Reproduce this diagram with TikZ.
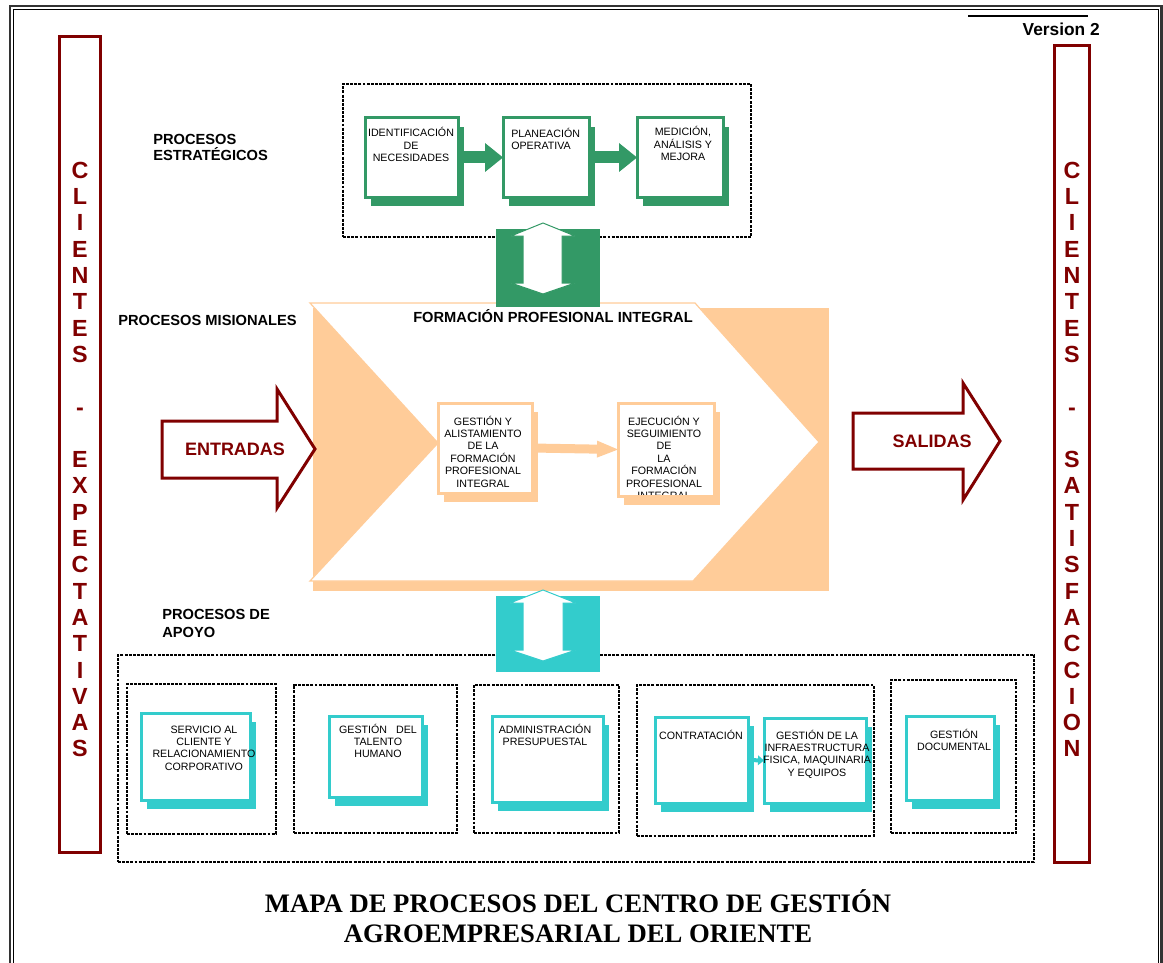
\documentclass[tikz,border=0pt]{standalone}
\usepackage{fontspec}
\setmainfont{Liberation Sans}
\newfontfamily\lsans{Liberation Sans}
\newfontfamily\lserif{Liberation Serif}
\usetikzlibrary{calc,fit,arrows.meta}
\definecolor{gcol}{HTML}{339966}
\definecolor{ccol}{HTML}{33CCCC}
\definecolor{ocol}{HTML}{FFCC99}
\definecolor{rcol}{HTML}{800000}
% name, colour, x1, y1, x2, y2
\newcommand\procbox[6]{%
  \fill[#2] ($(#3,#4)+(6,9)$) rectangle ($(#5,#6)+(6,9)$);
  \node[draw=#2, fill=white, line width=2.25pt, inner sep=0pt, outer sep=0pt, fit={(#3,#4) (#5,#6)}] (#1) {};
}
\begin{document}
\begin{tikzpicture}[x=0.75pt,y=-0.75pt,
  tx/.style={font=\lsans\fontsize{8}{9.3}\selectfont, inner sep=0pt, align=center, anchor=base},
  lab/.style={font=\lsans\bfseries\fontsize{11}{12.5}\selectfont, inner sep=0pt, align=left, anchor=base west},
  letter/.style={font=\lsans\bfseries\fontsize{17.5}{20}\selectfont, text=rcol, inner sep=0pt, anchor=base},
  dbox/.style={draw=black, dash pattern=on 2.2pt off 0.9pt, line width=0.9pt, inner sep=0pt, outer sep=0pt},
  rbox/.style={draw=rcol, line width=2.25pt, inner sep=0pt, outer sep=0pt},
  bigarrow/.style={draw=rcol, fill=white, line width=2.25pt, line join=miter},
  bigtext/.style={font=\lsans\bfseries\fontsize{13.5}{16}\selectfont, text=rcol, inner sep=0pt},
  dblarrow/.style={fill=white, line width=0.75pt, line join=miter},
]
\useasboundingbox (0,0) rectangle (1163,963);
% page frame
\draw[line width=1.8pt, black!80] (10,963) -- (10,6) -- (1161.5,6) -- (1161.5,963);
\draw[line width=0.6pt] (13,963) -- (13,9.5) -- (1158.5,9.5) -- (1158.5,963);
% version
\coordinate (v1) at (968,16);
\coordinate (v2) at (1088,16);
\draw[line width=1.3pt] (v1) -- (v2);
\node[font=\lsans\bfseries\fontsize{13}{15}\selectfont, inner sep=0pt, anchor=base east] (ver) at (1100,36) {Version 2};

% client columns
\node[rbox, fit={(59.5,36.5) (100,852)}] (colL) {};
\node[rbox, fit={(1054.3,46) (1089,862)}] (colR) {};
\foreach \ch [count=\i from 0] in {C,L,I,E,N,T,E,S}
  \node[letter] (la\i) at (80,{178.3+\i*26.3}) {\ch};
\node[letter] (ladash) at (80,{178.3+9*26.3}) {-};
\foreach \ch [count=\i from 11] in {E,X,P,E,C,T,A,T,I,V,A,S}
  \node[letter] (lb\i) at (80,{178.3+\i*26.3}) {\ch};
\foreach \ch [count=\i from 0] in {C,L,I,E,N,T,E,S}
  \node[letter] (ra\i) at (1072,{178.3+\i*26.3}) {\ch};
\node[letter] (radash) at (1072,{178.3+9*26.3}) {-};
\foreach \ch [count=\i from 11] in {S,A,T,I,S,F,A,C,C,I,O,N}
  \node[letter] (rb\i) at (1072,{178.3+\i*26.3}) {\ch};

% section labels (anchor = baseline of the last line)
\node[lab] (labE) at (153,161) {PROCESOS\\[-0.5pt]ESTRATÉGICOS};
\node[lab] (labM) at (118,325) {PROCESOS MISIONALES};
\node[lab, font=\lsans\bfseries\fontsize{11}{13.5}\selectfont] (labA) at (162,637) {PROCESOS DE\\APOYO};

% strategic processes
\node[dbox, fit={(343,84) (751,237)}] (estr) {};
\procbox{b1}{gcol}{365}{118}{458}{197}
\procbox{b2}{gcol}{503}{118}{589}{197}
\procbox{b3}{gcol}{637}{118}{723}{197}
\draw[gcol, line width=9pt, -{Triangle[length=13.5pt,width=21.75pt,line width=0pt]}] (b1.east) -- (b2.west);
\draw[gcol, line width=9pt, -{Triangle[length=13.5pt,width=21.75pt,line width=0pt]}] (b2.east) -- (b3.west);
\node[tx] (b1t) at (411,161.8) {IDENTIFICACIÓN\\DE\\NECESIDADES};
\node[tx, align=left, anchor=base west] (b2t) at (511,149.4) {PLANEACIÓN\\OPERATIVA};
\node[tx] (b3t) at (683,160.8) {MEDICIÓN,\\ANÁLISIS Y\\MEJORA};

% mission processes
\fill[ocol] (313,308) rectangle (829,591);
\draw[ocol, fill=white, line width=0.9pt, line join=miter] (310,303) -- (695,303) -- (819,442) -- (693,581) -- (310,581) -- (438,443) -- cycle;
\node[font=\lsans\bfseries\fontsize{11}{13}\selectfont, inner sep=0pt, anchor=base] (fpi) at (553,322) {FORMACIÓN PROFESIONAL INTEGRAL};
\procbox{oA}{ocol}{438}{403}{532}{493}
\procbox{oB}{ocol}{618}{403}{714}{496}
\draw[ocol, line width=6.75pt, -{Triangle[length=15.75pt,width=12.75pt,line width=0pt]}] (oA.east) -- (oB.west);
\node[tx] (oAt) at (483,487) {GESTIÓN Y\\ALISTAMIENTO\\DE LA\\FORMACIÓN\\PROFESIONAL\\INTEGRAL};
\begin{scope}
  \clip (618,403) rectangle (714,494);
  \node[tx] (oBt) at (664,499.4) {EJECUCIÓN Y\\SEGUIMIENTO\\DE\\LA\\FORMACIÓN\\PROFESIONAL\\INTEGRAL};
\end{scope}

% link strategic <-> mission
\node[fill=gcol, inner sep=0pt, outer sep=0pt, fit={(496,229) (600,307)}] (glink) {};
\draw[gcol, dblarrow] (543,223) -- (575,236) -- (562,236) -- (562,283) -- (575,283) -- (543,294)
  -- (511,283) -- (523,283) -- (523,236) -- (511,236) -- cycle;

% inputs / outputs
\draw[bigarrow] (162,421) -- (277,421) -- (277,389) -- (315,449) -- (277,508) -- (277,478) -- (162,478) -- cycle;
\node[bigtext] (entr) at (235,449) {ENTRADAS};
\draw[bigarrow] (853,413) -- (963,413) -- (963,383) -- (1000,441) -- (963,500) -- (963,469) -- (853,469) -- cycle;
\node[bigtext] (sal) at (932,441) {SALIDAS};

% support processes
\node[dbox, fit={(118,655) (1034,862)}] (apoyo) {};
\node[dbox, fit={(127,684) (276,834)}] (d1) {};
\node[dbox, fit={(294,685) (457,833)}] (d2) {};
\node[dbox, fit={(474,685) (619,833)}] (d3) {};
\node[dbox, fit={(637,685) (874,836)}] (d4) {};
\node[dbox, fit={(891,680) (1016,833)}] (d5) {};
\procbox{c1}{ccol}{141}{713}{250}{800}
\procbox{c2}{ccol}{329}{716}{422}{797}
\procbox{c3}{ccol}{492}{716}{603}{802}
\procbox{c4a}{ccol}{655}{717}{748}{803}
\procbox{c4b}{ccol}{764}{718}{866}{803}
\procbox{c5}{ccol}{906}{716}{994}{800}
\draw[ccol, line width=3pt, -{Triangle[length=4.5pt,width=7.5pt,line width=0pt]}] (c4a.east) -- (c4b.west);
\node[tx] (c1t) at (204,770.2) {SERVICIO AL\\CLIENTE Y\\RELACIONAMIENTO\\CORPORATIVO};
\node[tx] (c2t) at (378,757.8) {GESTIÓN\ \ \ DEL\\TALENTO\\HUMANO};
\node[tx] (c3t) at (545,745.4) {ADMINISTRACIÓN\\PRESUPUESTAL};
\node[tx] (c4at) at (701,739) {CONTRATACIÓN};
\node[tx] (c4bt) at (817,776.2) {GESTIÓN DE LA\\INFRAESTRUCTURA\\FISICA, MAQUINARIA\\Y EQUIPOS};
\node[tx] (c5t) at (954,750.4) {GESTIÓN\\DOCUMENTAL};

% link mission <-> support
\node[fill=ccol, inner sep=0pt, outer sep=0pt, fit={(496,596) (600,672)}] (clink) {};
\draw[ccol, dblarrow] (543,590) -- (576,603) -- (563,603) -- (563,650) -- (576,650) -- (543,661)
  -- (510,650) -- (523,650) -- (523,603) -- (510,603) -- cycle;

% title
\node[font=\lserif\bfseries\fontsize{20}{22.5}\selectfont, inner sep=0pt, align=center, anchor=base] (title) at (578,942)
  {MAPA DE PROCESOS DEL CENTRO DE GESTIÓN\\AGROEMPRESARIAL DEL ORIENTE};
\end{tikzpicture}
\end{document}
